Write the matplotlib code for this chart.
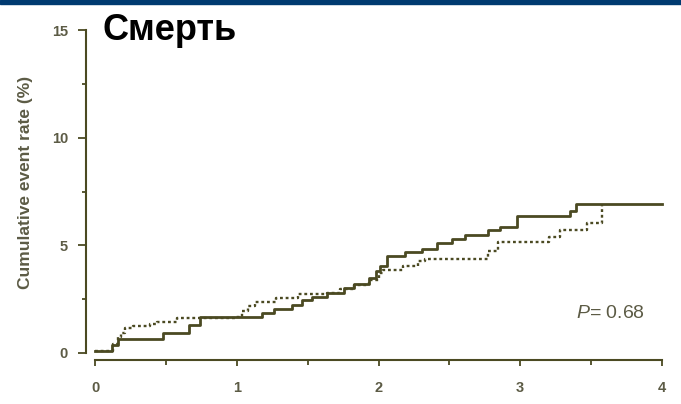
import matplotlib
matplotlib.use('Agg')
import matplotlib.pyplot as plt
from matplotlib.ticker import MultipleLocator

plt.rcParams['font.family'] = ['Liberation Sans', 'DejaVu Sans']
plt.rcParams['mathtext.fontset'] = 'custom'
plt.rcParams['mathtext.it'] = 'Liberation Sans:italic'
plt.rcParams['mathtext.rm'] = 'Liberation Sans'

# Kaplan-Meier style step curves: time (years) and cumulative event rate (%)
solid_t = [0.0, 0.12, 0.16, 0.48, 0.66, 0.74, 1.18, 1.26, 1.39, 1.46, 1.53, 1.64,
           1.76, 1.83, 1.93, 1.98, 2.01, 2.06, 2.19, 2.31, 2.41, 2.52, 2.61, 2.77,
           2.86, 2.98, 3.35, 3.39, 4.0]
solid_v = [0.1, 0.37, 0.63, 0.95, 1.3, 1.66, 1.85, 2.03, 2.23, 2.47, 2.62, 2.78,
           3.0, 3.2, 3.5, 3.8, 4.05, 4.5, 4.67, 4.85, 5.1, 5.3, 5.5, 5.7,
           5.87, 6.34, 6.6, 6.93, 6.93]

dotted_t = [0.0, 0.13, 0.16, 0.18, 0.21, 0.27, 0.39, 0.44, 0.58, 0.99, 1.04, 1.08,
            1.13, 1.28, 1.43, 1.64, 1.73, 1.83, 1.93, 2.0, 2.03, 2.17, 2.28, 2.33,
            2.77, 2.84, 3.2, 3.28, 3.47, 3.58]
dotted_v = [0.1, 0.4, 0.75, 0.95, 1.15, 1.25, 1.35, 1.46, 1.63, 1.66, 1.95, 2.2,
            2.39, 2.54, 2.72, 2.78, 2.95, 3.15, 3.4, 3.7, 3.86, 4.05, 4.25, 4.37,
            4.72, 5.15, 5.38, 5.69, 6.06, 6.9]

x_ticks = [0, 1, 2, 3, 4]
y_ticks = [0, 5, 10, 15]
title = 'Смерть'
p_label = '$P$= 0.68'

line_color = '#4b4a22'
label_color = '#5c5b45'

fig = plt.figure(figsize=(6.81, 4.04), dpi=100)
fig.patch.set_facecolor('white')

# dark blue band along the top edge
fig.add_artist(plt.Rectangle((0, 1 - 4 / 404), 1, 4 / 404, transform=fig.transFigure,
                             color='#003a70', zorder=0))

ax = fig.add_axes([95 / 681, 1 - 353 / 404, (662 - 95) / 681, (353 - 30) / 404])
ax.set_facecolor('none')

ax.step(solid_t, solid_v, where='post', color=line_color, linewidth=2.0,
        clip_on=False, zorder=3)
ax.step(dotted_t, dotted_v, where='post', color=line_color, linewidth=1.7,
        linestyle=(0, (1.2, 1.2)), clip_on=False, zorder=2)

ax.set_xlim(0, 4)
ax.set_ylim(0, 15)

for s in ['top', 'right']:
    ax.spines[s].set_visible(False)
ax.spines['left'].set_position(('outward', 6.5))
ax.spines['bottom'].set_position(('outward', 5))
ax.spines['left'].set_color(line_color)
ax.spines['bottom'].set_color(line_color)
ax.spines['left'].set_linewidth(1.5)
ax.spines['bottom'].set_linewidth(1.5)

ax.set_xticks(x_ticks)
ax.set_yticks(y_ticks)
ax.xaxis.set_minor_locator(MultipleLocator(0.5))
ax.yaxis.set_minor_locator(MultipleLocator(2.5))
ax.tick_params(axis='y', which='major', length=6, width=1.3, color=line_color, pad=7)
ax.tick_params(axis='y', which='minor', length=3, width=1.3, color=line_color)
ax.tick_params(axis='x', which='major', length=4.5, width=1.3, color=line_color, pad=11)
ax.tick_params(axis='x', which='minor', length=3.5, width=1.3, color=line_color)
for lbl in ax.get_xticklabels() + ax.get_yticklabels():
    lbl.set_fontweight('bold')
    lbl.set_fontsize(10.5)
    lbl.set_color(label_color)

fig.text(26 / 681, 1 - 182 / 404, 'Cumulative event rate (%)', rotation=90,
         ha='center', va='center', fontsize=12.5, fontweight='bold', color=label_color)

fig.text(103 / 681, 1 - 30 / 404, title, ha='left', va='center',
         fontsize=26, fontweight='bold', color='black')

ax.text(3.39, 1.85, p_label, fontsize=14, color=label_color,
        ha='left', va='center')

fig.savefig('out.png', dpi=100, facecolor='white')
